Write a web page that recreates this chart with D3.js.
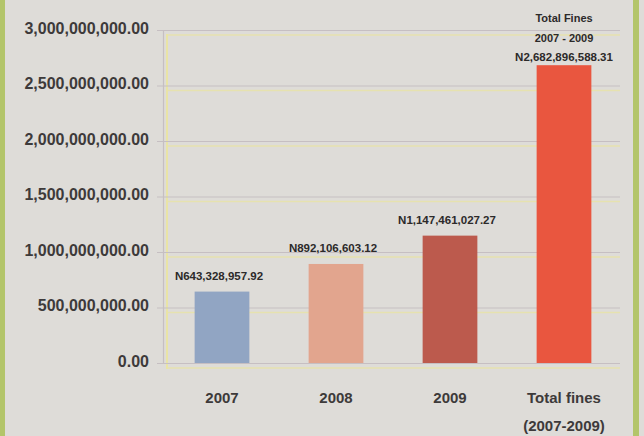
<!DOCTYPE html>
<html>
<head>
<meta charset="utf-8">
<script src="https://cdn.jsdelivr.net/npm/d3@7"></script>
<style>
  html, body { margin: 0; padding: 0; background: #dedcd8; }
  svg { display: block; }
  text { font-family: "Liberation Sans", Arial, sans-serif; }
</style>
</head>
<body>
<svg id="chart" width="644" height="436"></svg>
<script>
// ---- data ----
const categories = ["2007", "2008", "2009", "Total fines"];
const categorySubLabels = ["", "", "", "(2007-2009)"];
const values = [643328957.92, 892106603.12, 1147461027.27, 2682896588.31];
const valueLabels = ["N643,328,957.92", "N892,106,603.12", "N1,147,461,027.27", "N2,682,896,588.31"];
const totalHeaderLines = ["Total Fines", "2007 - 2009"];
const barColors = ["#91a5c3", "#e2a58e", "#bc5a4d", "#e9563f"];
const yTicks = [0, 500000000, 1000000000, 1500000000, 2000000000, 2500000000, 3000000000];

const svg = d3.select("#chart");
const W = 644, H = 436;

// page background and frame stripes
svg.append("rect").attr("x", 0).attr("y", 0).attr("width", W).attr("height", H).attr("fill", "#dedcd8");
svg.append("rect").attr("x", 0).attr("y", 0).attr("width", 5).attr("height", H).attr("fill", "#b3c56a");
svg.append("rect").attr("x", 633).attr("y", 0).attr("width", 6).attr("height", H).attr("fill", "#b3c56a");

const x = d3.scaleBand().domain(categories).range([165, 621]).paddingInner(0.52).paddingOuter(0.26);
const y = d3.scaleLinear().domain([0, 3000000000]).range([363, 30]);

const fmt = d3.format(",.2f");

// yellow misregistration shadows of gridlines
svg.append("g").selectAll("line").data(yTicks).join("line")
  .attr("x1", 166).attr("x2", 620)
  .attr("y1", d => y(d) + 5).attr("y2", d => y(d) + 5)
  .attr("stroke", "#e9e4a6").attr("stroke-width", 1.5).attr("opacity", 0.8);
svg.append("line").attr("x1", 167).attr("x2", 167).attr("y1", y(3000000000) + 4).attr("y2", y(0) + 6)
  .attr("stroke", "#e9e4a6").attr("stroke-width", 2);

// y axis with gridlines
const yAxis = d3.axisLeft(y).tickValues(yTicks).tickFormat(d => fmt(d))
  .tickSize(-(620 - 163)).tickPadding(14);
const gy = svg.append("g").attr("transform", "translate(163,0)").call(yAxis);
gy.select(".domain").attr("stroke", "#c6bfc2").attr("stroke-width", 1.2);
gy.selectAll(".tick line").attr("stroke", "#c6bfc2").attr("stroke-width", 1.2).attr("x1", -6);
gy.selectAll(".tick text")
  .attr("fill", "#3d3a3a").attr("font-size", 16).attr("font-weight", "bold")
  .attr("dy", "0.2em");

// bars
svg.append("g").selectAll("rect").data(values).join("rect")
  .attr("x", (d, i) => x(categories[i]))
  .attr("width", x.bandwidth())
  .attr("y", d => y(d))
  .attr("height", d => y(0) - y(d))
  .attr("fill", (d, i) => barColors[i]);

// value labels (first three)
svg.append("g").selectAll("text").data(values.slice(0, 3)).join("text")
  .attr("x", (d, i) => x(categories[i]) + x.bandwidth() / 2 - 3)
  .attr("y", d => y(d) - 12)
  .attr("text-anchor", "middle")
  .attr("font-size", 11.5).attr("font-weight", "bold").attr("fill", "#2c2a2a")
  .text((d, i) => valueLabels[i]);

// total label (three lines)
const tcx = x(categories[3]) + x.bandwidth() / 2;
const tg = svg.append("g").attr("text-anchor", "middle").attr("font-weight", "bold").attr("fill", "#2c2a2a").attr("font-size", 11);
tg.append("text").attr("x", tcx).attr("y", y(values[3]) - 43).text(totalHeaderLines[0]);
tg.append("text").attr("x", tcx).attr("y", y(values[3]) - 23).text(totalHeaderLines[1]);
tg.append("text").attr("x", tcx).attr("y", y(values[3]) - 4).attr("font-size", 11.5).text(valueLabels[3]);

// category labels
const xAxis = d3.axisBottom(x).tickSize(0).tickPadding(0);
const gx = svg.append("g").attr("transform", "translate(0,363)").call(xAxis);
gx.select(".domain").remove();
gx.selectAll(".tick text").remove();
gx.selectAll(".tick").each(function(d, i) {
  const g = d3.select(this);
  g.append("text").attr("y", 40).attr("text-anchor", "middle")
    .attr("font-size", 15).attr("font-weight", "bold").attr("fill", "#3d3a3a")
    .text(d);
  if (categorySubLabels[i]) {
    g.append("text").attr("y", 68).attr("text-anchor", "middle")
      .attr("font-size", 15).attr("font-weight", "bold").attr("fill", "#3d3a3a")
      .text(categorySubLabels[i]);
  }
});
</script>
</body>
</html>
